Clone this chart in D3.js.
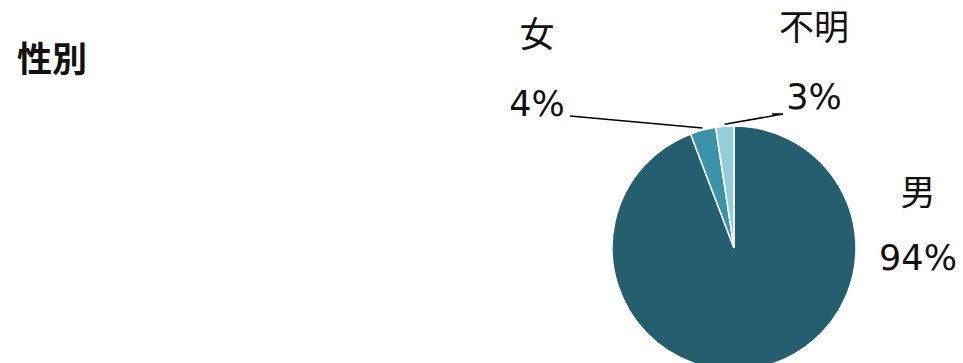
<!DOCTYPE html>
<html>
<head>
<meta charset="utf-8">
<script src="https://cdn.jsdelivr.net/npm/d3@7"></script>
<style>
  body { margin: 0; background: #fff; }
  text { font-family: "DejaVu Sans", "Noto Sans CJK JP", sans-serif; fill: #111; }
</style>
</head>
<body>
<script>
const categories = ['男', '女', '不明'];
const values = [94.4, 3.4, 2.4];
const pctLabels = ['94%', '4%', '3%'];
const colors = ['#255e6e', '#3b93aa', '#94cedb'];

const width = 963, height = 363;
const cx = 734, cy = 248, r = 122;

// label layout: name/pct positions and leader elbows
const labelPos = [
    { x: 918, ny: 205, py: 270, elbow: null },
    { x: 537, ny: 47, py: 116, elbow: [[570, 116]] },
    { x: 814, ny: 40, py: 109, elbow: [[772, 114], [783, 114]] }
];

const svg = d3.select('body').append('svg')
    .attr('width', width)
    .attr('height', height);

svg.append('text')
    .attr('x', 17)
    .attr('y', 72)
    .attr('font-size', 35)
    .attr('font-weight', 'bold')
    .style('font-family', '"Noto Sans CJK JP", sans-serif')
    .text('性別');

const data = categories.map((c, i) => ({ name: c, value: values[i], label: pctLabels[i], color: colors[i], pos: labelPos[i] }));

const pie = d3.pie()
    .sort(null)
    .value(d => d.value);

const arc = d3.arc()
    .innerRadius(0)
    .outerRadius(r);

const arcs = pie(data);

const g = svg.append('g')
    .attr('transform', 'translate(' + cx + ' ' + cy + ')');

g.selectAll('path')
    .data(arcs)
    .join('path')
    .attr('d', arc)
    .attr('fill', d => d.data.color)
    .attr('stroke', '#fff')
    .attr('stroke-width', 1.5);

// leader lines for the small slices
const line = d3.line();
arcs.filter(d => d.data.pos.elbow).forEach(d => {
    const mid = (d.startAngle + d.endAngle) / 2;
    const p0 = [cx + Math.sin(mid) * (r + 2), cy - Math.cos(mid) * (r + 2)];
    const pts = [p0].concat(d.data.pos.elbow.slice().reverse());
    svg.append('path')
        .attr('d', line(pts))
        .attr('fill', 'none')
        .attr('stroke', '#000')
        .attr('stroke-width', 1.5);
});

const labels = svg.selectAll('.lbl')
    .data(arcs)
    .join('g')
    .classed('lbl', true);

labels.append('text')
    .attr('x', d => d.data.pos.x)
    .attr('y', d => d.data.pos.ny)
    .attr('text-anchor', 'middle')
    .attr('font-size', 35)
    .style('font-family', '"Noto Sans CJK JP", sans-serif')
    .text(d => d.data.name);

labels.append('text')
    .attr('x', d => d.data.pos.x)
    .attr('y', d => d.data.pos.py)
    .attr('text-anchor', 'middle')
    .attr('font-size', 35)
    .text(d => d.data.label);
</script>
</body>
</html>
